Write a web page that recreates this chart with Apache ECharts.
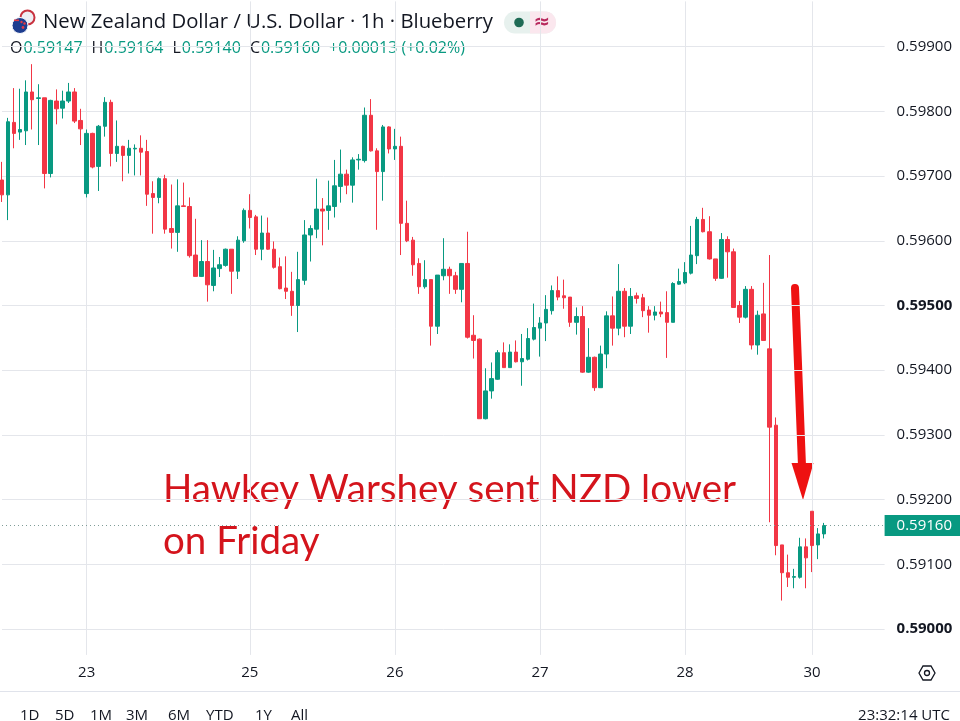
<!DOCTYPE html>
<html>
<head>
<meta charset="utf-8">
<script src="https://cdn.jsdelivr.net/npm/echarts@6/dist/echarts.min.js"></script>
<style>
html,body{margin:0;padding:0;background:#ffffff;}
#chart{width:960px;height:721px;}
</style>
</head>
<body>
<div id="chart"></div>
<script>
// ---- DATA ----
// Hourly NZD/USD candles: [open, close, low, high]
const ohlc = [
[0.59694,0.59671,0.59660,0.59722],[0.59671,0.59784,0.59632,0.59790],[0.59783,0.59766,0.59743,0.59836],[0.59768,0.59772,0.59756,0.59835],
[0.59770,0.59830,0.59748,0.59848],[0.59830,0.59818,0.59772,0.59873],[0.59820,0.59821,0.59748,0.59842],[0.59821,0.59704,0.59681,0.59821],
[0.59704,0.59817,0.59698,0.59818],[0.59816,0.59804,0.59780,0.59834],[0.59805,0.59816,0.59789,0.59832],[0.59816,0.59830,0.59813,0.59844],
[0.59830,0.59785,0.59782,0.59836],[0.59786,0.59773,0.59748,0.59804],[0.59673,0.59766,0.59667,0.59772],[0.59766,0.59714,0.59712,0.59767],
[0.59715,0.59777,0.59677,0.59779],[0.59777,0.59814,0.59761,0.59822],[0.59814,0.59735,0.59715,0.59818],[0.59735,0.59746,0.59722,0.59786],
[0.59746,0.59732,0.59692,0.59747],[0.59732,0.59743,0.59704,0.59756],[0.59742,0.59743,0.59701,0.59749],[0.59743,0.59737,0.59701,0.59763],
[0.59738,0.59672,0.59654,0.59756],[0.59673,0.59667,0.59611,0.59692],[0.59667,0.59696,0.59658,0.59698],[0.59696,0.59618,0.59611,0.59702],
[0.59619,0.59613,0.59588,0.59687],[0.59613,0.59654,0.59583,0.59695],[0.59654,0.59653,0.59653,0.59690],[0.59653,0.59577,0.59574,0.59667],
[0.59578,0.59545,0.59545,0.59634],[0.59545,0.59568,0.59544,0.59601],[0.59568,0.59532,0.59506,0.59601],[0.59531,0.59558,0.59522,0.59586],
[0.59557,0.59563,0.59544,0.59575],[0.59562,0.59587,0.59560,0.59588],[0.59587,0.59553,0.59518,0.59587],[0.59553,0.59601,0.59541,0.59607],
[0.59600,0.59647,0.59597,0.59650],[0.59647,0.59636,0.59619,0.59672],[0.59637,0.59587,0.59578,0.59640],[0.59587,0.59612,0.59570,0.59639],
[0.59612,0.59587,0.59586,0.59636],[0.59587,0.59559,0.59557,0.59599],[0.59560,0.59526,0.59525,0.59574],[0.59527,0.59522,0.59510,0.59576],
[0.59522,0.59500,0.59484,0.59552],[0.59500,0.59540,0.59459,0.59583],[0.59539,0.59609,0.59532,0.59632],[0.59609,0.59619,0.59568,0.59624],
[0.59618,0.59649,0.59604,0.59696],[0.59649,0.59646,0.59593,0.59666],[0.59647,0.59654,0.59617,0.59693],[0.59653,0.59685,0.59636,0.59725],
[0.59684,0.59703,0.59659,0.59741],[0.59703,0.59686,0.59672,0.59710],[0.59686,0.59725,0.59659,0.59729],[0.59725,0.59726,0.59710,0.59734],
[0.59724,0.59794,0.59721,0.59806],[0.59794,0.59739,0.59738,0.59819],[0.59739,0.59707,0.59617,0.59743],[0.59707,0.59776,0.59662,0.59779],
[0.59776,0.59742,0.59735,0.59777],[0.59742,0.59746,0.59725,0.59773],[0.59746,0.59627,0.59578,0.59761],[0.59627,0.59600,0.59598,0.59662],
[0.59601,0.59563,0.59546,0.59606],[0.59565,0.59529,0.59518,0.59573],[0.59529,0.59540,0.59526,0.59570],[0.59540,0.59468,0.59438,0.59540],
[0.59468,0.59547,0.59456,0.59547],[0.59546,0.59556,0.59539,0.59604],[0.59556,0.59546,0.59518,0.59560],[0.59546,0.59525,0.59518,0.59552],
[0.59525,0.59565,0.59505,0.59565],[0.59565,0.59451,0.59449,0.59614],[0.59454,0.59446,0.59418,0.59485],[0.59448,0.59325,0.59325,0.59449],
[0.59325,0.59368,0.59324,0.59403],[0.59368,0.59387,0.59356,0.59412],[0.59386,0.59427,0.59385,0.59431],[0.59427,0.59404,0.59404,0.59443],
[0.59404,0.59428,0.59404,0.59440],[0.59428,0.59413,0.59412,0.59446],[0.59413,0.59418,0.59376,0.59456],[0.59417,0.59449,0.59415,0.59465],
[0.59448,0.59466,0.59446,0.59503],[0.59465,0.59473,0.59421,0.59482],[0.59473,0.59494,0.59445,0.59516],[0.59492,0.59523,0.59486,0.59531],
[0.59523,0.59513,0.59508,0.59545],[0.59515,0.59512,0.59495,0.59540],[0.59513,0.59474,0.59467,0.59513],[0.59474,0.59483,0.59455,0.59497],
[0.59483,0.59397,0.59396,0.59499],[0.59397,0.59420,0.59396,0.59465],[0.59420,0.59373,0.59368,0.59421],[0.59373,0.59425,0.59373,0.59438],
[0.59425,0.59484,0.59403,0.59491],[0.59484,0.59465,0.59438,0.59514],[0.59465,0.59522,0.59454,0.59564],[0.59522,0.59468,0.59451,0.59527],
[0.59468,0.59514,0.59456,0.59527],[0.59515,0.59511,0.59503,0.59520],[0.59512,0.59492,0.59482,0.59518],[0.59493,0.59485,0.59458,0.59499],
[0.59485,0.59490,0.59477,0.59499],[0.59490,0.59487,0.59482,0.59506],[0.59489,0.59474,0.59419,0.59522],[0.59474,0.59534,0.59474,0.59536],
[0.59533,0.59537,0.59532,0.59557],[0.59535,0.59551,0.59533,0.59567],[0.59550,0.59578,0.59548,0.59623],[0.59577,0.59633,0.59564,0.59637],
[0.59633,0.59614,0.59613,0.59651],[0.59614,0.59572,0.59571,0.59638],[0.59572,0.59542,0.59538,0.59572],[0.59542,0.59602,0.59541,0.59612],
[0.59602,0.59583,0.59543,0.59607],[0.59583,0.59497,0.59497,0.59588],[0.59500,0.59482,0.59473,0.59507],[0.59482,0.59525,0.59480,0.59530],
[0.59525,0.59439,0.59432,0.59530],[0.59439,0.59485,0.59424,0.59492],[0.59487,0.59446,0.59446,0.59535],[0.59433,0.59312,0.59165,0.59578],
[0.59315,0.59129,0.59114,0.59327],[0.59130,0.59087,0.59044,0.59130],[0.59087,0.59080,0.59065,0.59115],[0.59080,0.59081,0.59063,0.59093],
[0.59080,0.59127,0.59078,0.59141],[0.59127,0.59110,0.59063,0.59140],[0.59182,0.59129,0.59088,0.59182],[0.59130,0.59147,0.59108,0.59156],
[0.59147,0.59160,0.59140,0.59164]
];
// Day tick labels and the bar at which each day starts
const dayTickLabels = ['23', '25', '26', '27', '28', '30'];
const dayTickIndex  = [14, 41, 65, 89, 113, 134];
// Empty future hourly slots shown to the right of the last bar
const futureSlots = 10;
// Price axis: range, step of the internal ticks, labelled step, bold labels
const priceMin = 0.5896, priceMax = 0.5997, priceStep = 0.0002, labelStep = 0.001;
const boldTicks = ['0.59500', '0.59000'];
// Texts
const titleText = 'New Zealand Dollar / U.S. Dollar \u00b7 1h \u00b7 Blueberry';
const noteLines = ['Hawkey Warshey sent NZD lower', 'on Friday'];
const rangeButtons = ['1D', '5D', '1M', '3M', '6M', 'YTD', '1Y', 'All'];
const rangeButtonX = [20, 55, 90, 126, 168, 206, 255, 291];
const clockText = '23:32:14 UTC';

// ---- CHART ----
const UP = '#089981', DOWN = '#f23645', TXT = '#131722', GRID = '#e4e6eb';
const FONT = 'Open Sans';
const NOTE_FONT = 'Lato';
const N = ohlc.length;
const categories = Array.from({length: N + futureSlots}, (_, i) => 'h' + i);
const labelAt = {};
dayTickIndex.forEach((idx, k) => { labelAt[idx] = dayTickLabels[k]; });
const isDay = (i) => labelAt[i] !== undefined;

const last = ohlc[N - 1];
const prevClose = ohlc[N - 2][1];
const chg = last[1] - prevClose;
const chgPct = chg / prevClose * 100;
const f5 = (v) => v.toFixed(5);
const sgn = (v) => (v >= 0 ? '+' : '-');

// OHLC header pieces laid out one after another
const measureCtx = document.createElement('canvas').getContext('2d');
const textW = (t, size, weight) => { measureCtx.font = (weight || 'normal') + ' ' + size + 'px ' + FONT; return measureCtx.measureText(t).width; };
const ohlcPieces = [
  ['O', TXT], [f5(last[0]), UP], null,
  ['H', TXT], [f5(last[3]), UP], null,
  ['L', TXT], [f5(last[2]), UP], null,
  ['C', TXT], [f5(last[1]), UP], null,
  [sgn(chg) + Math.abs(chg).toFixed(5) + ' (' + sgn(chg) + Math.abs(chgPct).toFixed(2) + '%)', UP]
];
const headerGraphics = [];
let hx = 10;
const HFS = 16;
ohlcPieces.forEach((p) => {
  if (!p) { hx += 8; return; }
  headerGraphics.push({ type: 'text', x: hx, y: 48, style: { text: p[0], fill: p[1], fontSize: HFS, fontFamily: FONT, verticalAlign: 'middle' } });
  hx += textW(p[0], HFS) + 1;
});

// split line colours: only lines at whole labelStep values are visible
const perLabel = Math.round(labelStep / priceStep);
const firstOffset = Math.round((Math.ceil(priceMin / labelStep - 1e-9) * labelStep - priceMin) / priceStep);
const splitColors = [];
for (let i = 0; i < perLabel; i++) splitColors.push(i === firstOffset % perLabel ? GRID : 'rgba(0,0,0,0)');

const chart = echarts.init(document.getElementById('chart'));
const option = {
  animation: false,
  backgroundColor: '#ffffff',
  textStyle: { fontFamily: FONT },
  grid: { left: 2, right: 75.4, top: 1.4, bottom: 66.1, containLabel: false },
  xAxis: {
    type: 'category',
    data: categories,
    boundaryGap: false,
    axisLine: { show: false },
    axisTick: { show: false },
    axisLabel: {
      interval: (i) => isDay(i),
      formatter: (v, i) => labelAt[i] || '',
      color: TXT, fontSize: 15, fontFamily: FONT, margin: 10
    },
    splitLine: { show: true, interval: (i) => isDay(i), lineStyle: { color: GRID, width: 1 } }
  },
  yAxis: {
    type: 'value',
    position: 'right',
    min: priceMin, max: priceMax, interval: priceStep,
    axisLine: { show: false },
    axisTick: { show: false },
    axisLabel: {
      margin: 12,
      color: TXT, fontSize: 15, fontFamily: FONT,
      formatter: (v) => {
        const k = Math.round(v / labelStep);
        if (Math.abs(v / labelStep - k) > 1e-6) return '';
        const s = (k * labelStep).toFixed(5);
        return boldTicks.includes(s) ? '{b|' + s + '}' : s;
      },
      rich: { b: { fontWeight: 'bold', color: TXT, fontSize: 15, fontFamily: FONT } }
    },
    splitLine: { show: true, lineStyle: { color: splitColors, width: 1 } }
  },
  series: [{
    type: 'candlestick',
    data: ohlc,
    barWidth: 4,
    clip: true,
    itemStyle: { color: UP, color0: DOWN, borderColor: UP, borderColor0: DOWN, borderWidth: 1 },
    markLine: {
      silent: true,
      precision: 5,
      symbol: ['none', 'none'],
      animation: false,
      data: [{ yAxis: last[1] }],
      lineStyle: { type: [1, 3], color: '#7f9c97', width: 1 },
      label: {
        show: true, position: 'end', distance: 0,
        formatter: f5(last[1]),
        backgroundColor: UP, color: '#ffffff', fontSize: 15, fontFamily: FONT,
        padding: [3, 12, 3, 12]
      }
    }
  }],
  graphic: [
    // flag icon
    { type: 'circle', shape: { cx: 27.5, cy: 17.5, r: 7 }, style: { fill: '#eeeef3', stroke: '#c8323f', lineWidth: 2 } },
    { type: 'circle', shape: { cx: 20, cy: 25.5, r: 8 }, style: { fill: '#1d3d8f', stroke: '#ffffff', lineWidth: 1 } },
    { type: 'circle', shape: { cx: 23, cy: 27.5, r: 1.4 }, style: { fill: '#e23a46' } },
    { type: 'circle', shape: { cx: 24.5, cy: 23.5, r: 1.2 }, style: { fill: '#e23a46' } },
    { type: 'circle', shape: { cx: 21.5, cy: 22, r: 1.2 }, style: { fill: '#e23a46' } },
    { type: 'rect', shape: { x: 14, y: 19.5, width: 5, height: 1.6 }, style: { fill: '#e23a46' } },
    // title
    { type: 'text', x: 43, y: 22, style: { text: titleText, fill: TXT, fontSize: 20.3, fontFamily: FONT, verticalAlign: 'middle' } },
    // status pill
    { type: 'rect', shape: { x: 504, y: 11.5, width: 52, height: 22, r: 11 }, style: { fill: '#e7f1ee' } },
    { type: 'rect', shape: { x: 530, y: 11.5, width: 26, height: 22, r: [0, 11, 11, 0] }, style: { fill: '#fbe7ee' } },
    { type: 'circle', shape: { cx: 519, cy: 22.5, r: 4.8 }, style: { fill: '#1e6b55' } },
    { type: 'text', x: 542, y: 23, style: { text: '\u2248', fill: '#b82a5e', fontSize: 20, fontWeight: 'bold', fontFamily: 'DejaVu Sans', align: 'center', verticalAlign: 'middle' } },
    // annotation
    { type: 'text', x: 163, y: 490, style: { text: noteLines[0], fill: '#d4141c', fontSize: 38.5, fontFamily: NOTE_FONT, verticalAlign: 'middle' } },
    { type: 'text', x: 163, y: 541.5, style: { text: noteLines[1], fill: '#d4141c', fontSize: 38.5, fontFamily: NOTE_FONT, verticalAlign: 'middle' } },
    // arrow
    { type: 'line', shape: { x1: 795, y1: 288, x2: 802, y2: 466 }, style: { stroke: '#ee1111', lineWidth: 8, lineCap: 'round' } },
    { type: 'polygon', shape: { points: [[791.5, 463], [813.5, 463], [803, 500]] }, style: { fill: '#ee1111' } },
    // bottom bar
    { type: 'line', shape: { x1: 0, y1: 691.5, x2: 960, y2: 691.5 }, style: { stroke: '#e0e3eb', lineWidth: 1 } },
    { type: 'text', x: 950, y: 716, style: { text: clockText, fill: TXT, fontSize: 15, fontFamily: FONT, align: 'right', verticalAlign: 'middle' } },
    // settings icon
    { type: 'polygon', shape: { points: [[919, 673], [923, 666], [931, 666], [935, 673], [931, 680], [923, 680]] }, style: { fill: 'none', stroke: TXT, lineWidth: 1.3 } },
    { type: 'circle', shape: { cx: 927, cy: 673, r: 2.5 }, style: { fill: 'none', stroke: TXT, lineWidth: 1.3 } }
  ].concat(headerGraphics).concat(rangeButtons.map((t, i) => ({
    type: 'text', x: rangeButtonX[i], y: 716, style: { text: t, fill: TXT, fontSize: 15, fontFamily: FONT, verticalAlign: 'middle' }
  })))
};
chart.setOption(option);
</script>
</body>
</html>
